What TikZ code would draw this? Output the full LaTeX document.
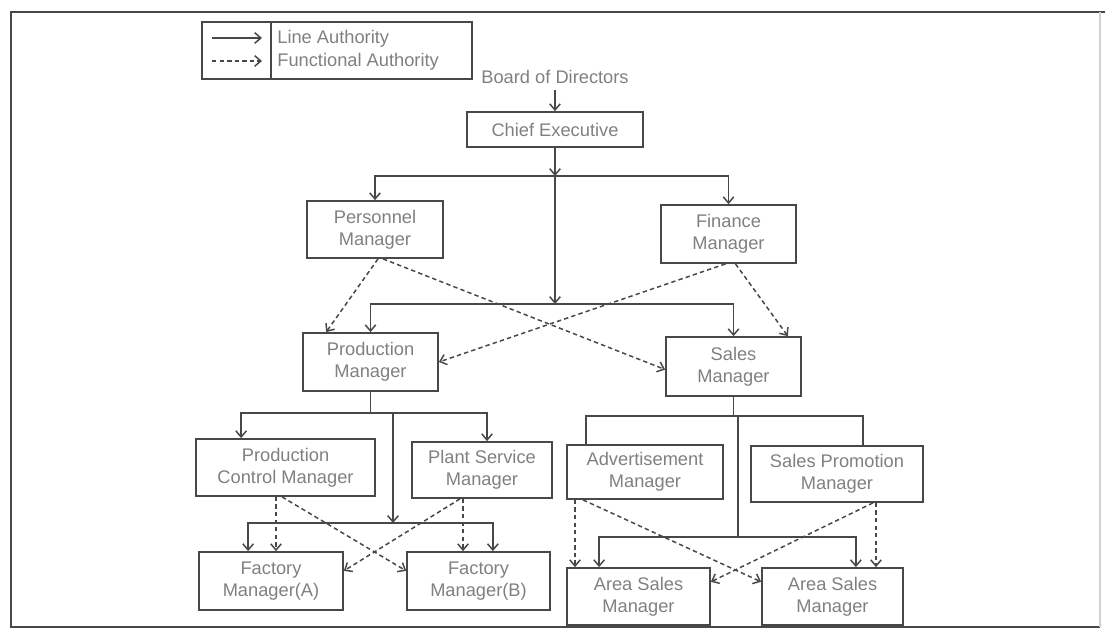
\documentclass[tikz,border=0pt]{standalone}
\usepackage{fontspec}
\setmainfont{Liberation Sans}
\usepackage{xcolor}
\definecolor{inkgray}{RGB}{72,72,72}
\definecolor{labelgray}{RGB}{128,128,128}
\usetikzlibrary{arrows.meta,calc}
\tikzset{>={Straight Barb[length=3.5pt,width=6pt]}}
\tikzset{
  post box/.style 2 args={
    draw=inkgray, line width=1pt, text=labelgray, align=center,
    font=\fontsize{10.4}{12.5}\selectfont, inner sep=0pt,
    minimum width=#1*0.02cm, minimum height=#2*0.02cm}}
\tikzset{
  key text/.style={
    text=labelgray, inner sep=0pt, font=\fontsize{10.4}{12.5}\selectfont}}
\tikzset{
  line authority/.style={draw=inkgray, line width=0.85pt}}
\tikzset{
  functional authority/.style={
    draw=inkgray, line width=0.85pt, dash pattern=on 2.5pt off 1.8pt}}

\begin{document}
\begin{tikzpicture}[x=0.02cm,y=-0.02cm]
    \useasboundingbox (0,0) rectangle (1105,631);
    % frame
    \draw[draw=inkgray, line width=1.6pt] (1105,12) -- (11,12) -- (11,627) -- (1100,627);
    \draw[draw=black!18, line width=0.6pt] (1100,12) -- (1100,627);
    % key
    \node[draw=inkgray, line width=1pt, minimum width=270*0.02cm,
          minimum height=57*0.02cm, inner sep=0pt] (legend) at (337,50.5) {};
    \coordinate (legend split) at ($(legend.north west)+(70,0)$);
    \draw[line authority] (legend split) -- (legend split |- legend.south);
    \coordinate (solid from) at (212,38);
    \coordinate (solid to) at (262,38);
    \coordinate (dash from) at (212,61);
    \coordinate (dash to) at (262,61);
    \draw[line authority,->] (solid from) -- (solid to);
    \draw[functional authority,->] (dash from) -- (dash to);
    \node[key text, anchor=west] (line key) at (277,39) {Line Authority};
    \node[key text, anchor=west] (func key) at (277,62) {Functional Authority};

    % posts
    \node[key text] (board) at (555,77) {Board of Directors};
    \node[post box={176}{35}] (chief) at (555,129.5) {Chief Executive};
    \node[post box={136}{57}] (pers) at (375,229.5) {Personnel\\Manager};
    \node[post box={135}{58}] (fin) at (728.5,234) {Finance\\Manager};
    \node[post box={135}{58}] (prod) at (370.5,362) {Production\\Manager};
    \node[post box={135}{59}] (sales) at (733.5,366.5) {Sales\\Manager};
    \node[post box={179}{57}] (pcm) at (285.5,467.5) {Production\\Control Manager};
    \node[post box={140}{56}] (psm) at (482,470) {Plant Service\\Manager};
    \node[post box={144}{58}] (fma) at (271,581) {Factory\\Manager(A)};
    \node[post box={143}{58}] (fmb) at (478.5,581) {Factory\\Manager(B)};
    \node[post box={156}{54}] (adv) at (645,472) {Advertisement\\Manager};
    \node[post box={172}{56}] (spm) at (837,474) {Sales Promotion\\Manager};
    \node[post box={143}{57}] (asm1) at (638.5,596.5) {Area Sales\\Manager};
    \node[post box={141}{57}] (asm2) at (832.5,596.5) {Area Sales\\Manager};

    % line authority, top
    \coordinate (ceo bus) at (555,176);
    \coordinate (dept bus) at (555,304);
    \draw[line authority,->,shorten <=0.12cm] (board) -- (chief);
    \draw[line authority,->] (chief) -- (ceo bus);
    \draw[line authority,->] (ceo bus) -| (pers.north);
    \draw[line authority,->] (ceo bus) -| (fin.north);
    \draw[line authority,->] (ceo bus) -- (dept bus);
    \draw[line authority,->] (dept bus) -| (prod.north);
    \draw[line authority,->] (dept bus) -| (sales.north);

    % line authority, production side
    \coordinate (pd bus) at (prod.south |- 0,413);
    \coordinate (pd mid) at (393,413);
    \coordinate (fm bus) at (393,523);
    \draw[line authority] (prod.south) -- (pd bus);
    \draw[line authority,->] (pd bus) -| ($(pcm.north west)+(46,0)$);
    \draw[line authority,->] (pd bus) -| ($(psm.north)+(5,0)$);
    \draw[line authority,->] (pd mid) -- (fm bus);
    \draw[line authority,->] (fm bus) -| ($(fma.north west)+(50,0)$);
    \draw[line authority,->] (fm bus) -| ($(fmb.north east)+(-58,0)$);

    % line authority, sales side
    \coordinate (sd bus) at (sales.south |- 0,416);
    \coordinate (sd mid) at (738,416);
    \coordinate (as bus) at (738,537);
    \draw[line authority] (sales.south) -- (sd bus);
    \draw[line authority] (sd bus) -| ($(adv.north west)+(20,0)$);
    \draw[line authority] (sd bus) -| ($(spm.north east)+(-61,0)$);
    \draw[line authority] (sd mid) -- (as bus);
    \draw[line authority,->] (as bus) -| ($(asm1.north west)+(33,0)$);
    \draw[line authority,->] (as bus) -| ($(asm2.north east)+(-48,0)$);

    % functional authority
    \draw[functional authority,->] ($(pers.south)+(3,0)$) -- ($(prod.north west)+(24,0)$);
    \draw[functional authority,->] ($(pers.south)+(8,0)$) -- ($(sales.north west)!0.55!(sales.south west)$);
    \draw[functional authority,->] ($(fin.south)+(-3,0)$) -- (prod.east);
    \draw[functional authority,->] ($(fin.south)+(7,0)$) -- ($(sales.north east)+(-14,0)$);

    \coordinate (pcm foot a) at ($(pcm.south)+(-9.5,0)$);
    \coordinate (pcm foot b) at ($(pcm.south)+(-3.5,0)$);
    \coordinate (psm foot a) at ($(psm.south)+(-22,0)$);
    \coordinate (psm foot b) at ($(psm.south)+(-19,0)$);
    \draw[functional authority,->] (pcm foot a) -- (pcm foot a |- fma.north);
    \draw[functional authority,->] (pcm foot b) -- ($(fmb.north west)!0.33!(fmb.south west)$);
    \draw[functional authority,->] (psm foot a) -- ($(fma.north east)!0.33!(fma.south east)$);
    \draw[functional authority,->] (psm foot b) -- (psm foot b |- fmb.north);

    \coordinate (adv foot a) at ($(adv.south)+(-70,0)$);
    \coordinate (adv foot b) at ($(adv.south)+(-62,0)$);
    \coordinate (spm foot a) at ($(spm.south)+(36,0)$);
    \coordinate (spm foot b) at ($(spm.south)+(39,0)$);
    \draw[functional authority,->] (adv foot a) -- (adv foot a |- asm1.north);
    \draw[functional authority,->] (adv foot b) -- ($(asm2.north west)!0.25!(asm2.south west)$);
    \draw[functional authority,->] (spm foot a) -- ($(asm1.north east)!0.25!(asm1.south east)$);
    \draw[functional authority,->] (spm foot b) -- (spm foot b |- asm2.north);
\end{tikzpicture}
\end{document}
